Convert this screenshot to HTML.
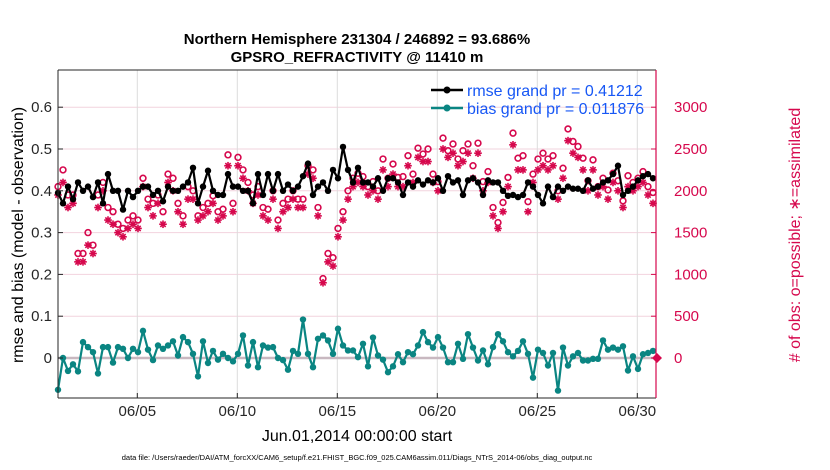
<!DOCTYPE html>
<html><head><meta charset="utf-8"><style>
body{margin:0;background:#fff;}
svg{display:block;font-family:"Liberation Sans",Arial,sans-serif;}
</style></head><body>
<svg id="chart" width="830" height="470" viewBox="0 0 830 470">
<text x="357" y="44" text-anchor="middle" font-size="15" font-weight="bold">Northern Hemisphere 231304 / 246892 = 93.686%</text>
<text x="357" y="62" text-anchor="middle" font-size="15" font-weight="bold">GPSRO_REFRACTIVITY @ 11410 m</text>
<g id="grid"></g>
<g id="marks"></g>
<g id="axes"></g>
<text transform="translate(23,235) rotate(-90)" text-anchor="middle" font-size="16">rmse and bias (model - observation)</text>
<text transform="translate(800,235) rotate(-90)" text-anchor="middle" font-size="16" fill="#d6084d"># of obs: o=possible; ∗=assimilated</text>
<text x="357" y="441" text-anchor="middle" font-size="16">Jun.01,2014 00:00:00 start</text>
<text x="357" y="460" text-anchor="middle" font-size="7.5">data file: /Users/raeder/DAI/ATM_forcXX/CAM6_setup/f.e21.FHIST_BGC.f09_025.CAM6assim.011/Diags_NTrS_2014-06/obs_diag_output.nc</text>
<g>
<line x1="431" y1="90" x2="463" y2="90" stroke="#000" stroke-width="2.5"/>
<circle cx="447" cy="90" r="3.5" fill="#000"/>
<text x="467" y="96" font-size="16" fill="#1757f5">rmse grand pr = 0.41212</text>
<line x1="431" y1="108" x2="463" y2="108" stroke="#0a8582" stroke-width="2.5"/>
<circle cx="447" cy="108" r="3.5" fill="#0a8582"/>
<text x="467" y="114" font-size="16" fill="#1757f5">bias grand pr = 0.011876</text>
</g>
</svg>
<script>
const rmse=[0.395,0.37,0.41,0.38,0.42,0.40,0.41,0.385,0.42,0.37,0.44,0.40,0.40,0.355,0.40,0.385,0.40,0.41,0.41,0.39,0.40,0.375,0.41,0.40,0.40,0.41,0.42,0.455,0.37,0.41,
0.448,0.40,0.39,0.39,0.44,0.41,0.41,0.40,0.40,0.37,0.44,0.39,0.44,0.40,0.44,0.40,0.415,0.40,0.41,0.435,0.465,0.39,0.41,0.42,0.40,0.45,0.43,0.505,0.45,0.42,
0.455,0.42,0.42,0.41,0.43,0.40,0.43,0.43,0.42,0.39,0.42,0.41,0.425,0.415,0.425,0.42,0.43,0.40,0.435,0.42,0.425,0.39,0.425,0.43,0.42,0.39,0.425,0.42,0.42,0.40,
0.388,0.39,0.385,0.39,0.42,0.41,0.39,0.37,0.41,0.385,0.41,0.40,0.41,0.405,0.405,0.40,0.425,0.405,0.41,0.42,0.425,0.44,0.46,0.39,0.40,0.41,0.425,0.435,0.44,0.43];
const bias=[-0.076,0.0,-0.031,-0.015,-0.032,0.038,0.026,0.014,-0.037,0.026,0.026,-0.011,0.026,0.022,0.0,0.022,0.014,0.065,0.02,-0.005,0.03,0.022,0.03,0.04,0.006,0.05,0.038,0.01,-0.044,0.04,
-0.012,0.017,-0.004,0.01,0.0,-0.008,0.01,0.054,-0.018,0.038,-0.022,0.03,0.025,0.026,0.0,-0.005,-0.028,0.017,0.01,0.092,0.01,-0.022,0.046,0.054,0.042,0.01,0.07,0.03,0.018,0.018,
0.002,0.034,-0.02,0.049,0.006,-0.004,-0.034,-0.02,0.009,-0.01,0.014,0.009,0.030,0.062,0.038,0.025,0.05,0.025,-0.01,-0.01,0.034,-0.002,0.057,0.025,-0.006,0.018,-0.015,0.026,0.057,0.04,
0.014,0.004,0.017,0.04,0.01,-0.047,0.020,0.012,-0.018,0.012,-0.078,0.025,-0.018,0.004,0.012,-0.006,-0.006,-0.002,-0.002,0.042,0.020,0.025,0.020,0.028,-0.03,0.004,-0.026,0.009,0.012,0.017];
const possible=[2050,2250,1950,1950,1250,1250,1500,1350,1950,2100,1800,1750,1600,1550,1650,1700,1650,2150,1900,1850,1950,1750,2200,2150,1850,1700,2050,2000,1700,1800,
1850,1940,1750,1780,2430,1850,2400,2250,2100,1950,2050,1800,1780,2000,1650,1850,1900,2000,1900,1900,2300,2250,1800,950,1250,1200,1550,1750,2000,2150,
2210,2170,2050,2110,2000,2380,2150,2320,2160,2170,2420,2200,2510,2440,2500,2200,2110,2630,2480,2560,2380,2480,2560,2300,2570,2110,2230,1800,1620,1860,
2160,2690,2390,2420,1870,2200,2380,2450,2380,2420,2000,2270,2740,2590,2530,2390,2120,2370,2050,2150,2010,2210,2120,1880,2180,2100,2150,2230,2050,1980];
const assimilated=[1950,2100,1800,1850,1150,1150,1350,1250,1800,2000,1650,1600,1500,1450,1550,1600,1550,2050,1800,1700,1850,1600,2100,2000,1750,1600,1900,1900,1650,1700,
1750,1850,1650,1700,2300,1750,2300,2150,2000,1850,1950,1700,1650,1900,1550,1750,1800,1900,1800,1800,2200,2150,1700,900,1150,1100,1450,1650,1900,2050,
2100,2050,1950,2000,1900,2250,2050,2200,2050,2050,2300,2100,2400,2350,2350,2100,2000,2500,2400,2450,2300,2350,2450,2150,2450,2000,2100,1700,1550,1750,
2050,2550,2250,2250,1750,2100,2250,2300,2250,2300,1900,2150,2600,2450,2400,2250,2000,2250,1950,2050,1900,2100,2000,1800,2050,2000,2050,2100,1950,1850];
const leftTicks=[0,0.1,0.2,0.3,0.4,0.5,0.6];
const rightTicks=[0,500,1000,1500,2000,2500,3000];
const xTickDays=[5,10,15,20,25,30];
const xTickLabels=["06/05","06/10","06/15","06/20","06/25","06/30"];

const NS="http://www.w3.org/2000/svg";
const L=58,R=656,T=70,B=398;
const xDay=d=>57.3+(d-1)*20;
const xIdx=i=>xDay(1+i*0.25)+0.7;
const yL=v=>358-v*418;
const yR=c=>358-c*418/5000;
function mk(tag,attrs,parent){const e=document.createElementNS(NS,tag);for(const k in attrs)e.setAttribute(k,attrs[k]);parent.appendChild(e);return e;}
const grid=document.getElementById('grid'),marks=document.getElementById('marks'),axes=document.getElementById('axes');
mk('rect',{x:L,y:T,width:R-L,height:B-T,fill:'#fff'},grid);
rightTicks.forEach(c=>{const g=mk('line',{x1:L,x2:R,y1:yR(c),y2:yR(c),stroke:'#f2d3de','stroke-width':1},grid);

});
xTickDays.forEach(d=>{const g=mk('line',{x1:xDay(d),x2:xDay(d),y1:T,y2:B,stroke:'#dcdcdc','stroke-width':1},grid);

});
const zl=mk('line',{x1:L,x2:R,y1:yL(0),y2:yL(0),stroke:'#c8b8c0','stroke-width':2.5},grid);


const red='#d6084d';
assimilated.forEach((c,i)=>{const x=xIdx(i),y=yR(c),s=3.8;const g=mk('g',{stroke:red,'stroke-width':1.6},marks);


mk('line',{x1:x-s,x2:x+s,y1:y,y2:y},g);mk('line',{x1:x,x2:x,y1:y-s,y2:y+s},g);
mk('line',{x1:x-s*0.7,x2:x+s*0.7,y1:y-s*0.7,y2:y+s*0.7},g);mk('line',{x1:x-s*0.7,x2:x+s*0.7,y1:y+s*0.7,y2:y-s*0.7},g);});
possible.forEach((c,i)=>{const e=mk('circle',{cx:xIdx(i),cy:yR(c),r:2.9,fill:'none',stroke:red,'stroke-width':1.6},marks);

});
function series(vals,color,name){const p=mk('polyline',{points:vals.map((v,i)=>xIdx(i)+','+yL(v)).join(' '),fill:'none',stroke:color,'stroke-width':2.2,'stroke-linejoin':'round'},marks);


vals.forEach((v,i)=>{const c=mk('circle',{cx:xIdx(i),cy:yL(v),r:3.2,fill:color},marks);

});}
series(rmse,'#000','rmse');
series(bias,'#0a8582','bias');
const dm=mk('path',{d:`M${R+1} ${yL(0)-5}L${R+6} ${yL(0)}L${R+1} ${yL(0)+5}L${R-4} ${yL(0)}Z`,fill:red},marks);


mk('line',{x1:L,x2:L,y1:T,y2:B,stroke:'#262626','stroke-width':1},axes);
mk('line',{x1:L,x2:R,y1:T,y2:T,stroke:'#262626','stroke-width':1},axes);
mk('line',{x1:L,x2:R,y1:B,y2:B,stroke:'#262626','stroke-width':1},axes);
mk('line',{x1:R,x2:R,y1:T,y2:B,stroke:red,'stroke-width':1.2},axes);
leftTicks.forEach(v=>{mk('line',{x1:L,x2:L+5,y1:yL(v),y2:yL(v),stroke:'#262626'},axes);
const t=mk('text',{x:L-6,y:yL(v)+5,'text-anchor':'end','font-size':15,fill:'#262626'},axes);t.textContent=String(v);

});
rightTicks.forEach(c=>{mk('line',{x1:R-5,x2:R,y1:yR(c),y2:yR(c),stroke:red},axes);
const t=mk('text',{x:R+18,y:yR(c)+5,'text-anchor':'start','font-size':15,fill:red},axes);t.textContent=String(c);

});
xTickDays.forEach((d,k)=>{mk('line',{x1:xDay(d),x2:xDay(d),y1:B,y2:B-5,stroke:'#262626'},axes);
const t=mk('text',{x:xDay(d),y:B+18,'text-anchor':'middle','font-size':15,fill:'#262626'},axes);t.textContent=xTickLabels[k];

});
</script>
</body></html>
